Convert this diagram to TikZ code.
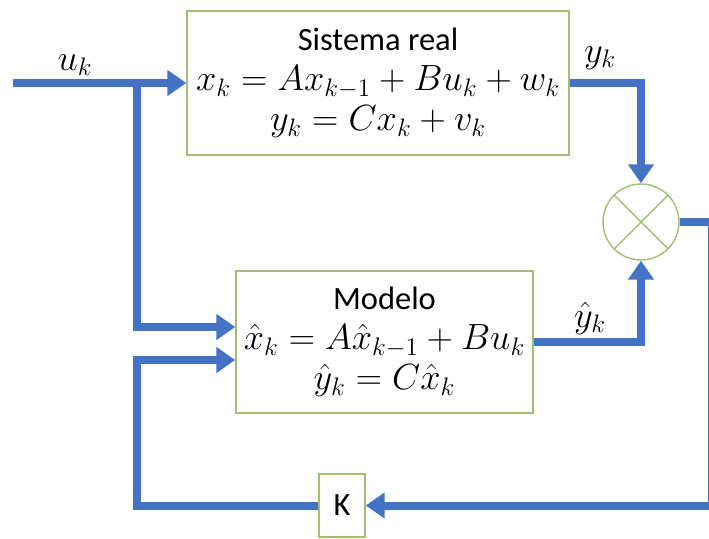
\documentclass[tikz,border=0pt]{standalone}
\usepackage{fontspec}
\setmainfont{Carlito}
\usetikzlibrary{arrows.meta}
\definecolor{sigblue}{HTML}{4472C4}
\definecolor{boxgreen}{HTML}{A3BE73}
\newcommand{\eqline}[1]{{\fontsize{20.5}{22.7}\selectfont$#1$}}
\tikzset{
  blockbox/.style={draw=boxgreen, line width=0.8pt, fill=white, align=center,
    font=\fontsize{18.5}{22.7}\selectfont},
  sig/.style={draw=sigblue, line width=0.16cm, -{Triangle[length=0.38cm,width=0.5cm]}},
  wire/.style={draw=sigblue, line width=0.16cm},
  lbl/.style={font=\fontsize{20.5}{22}\selectfont}
}
\begin{document}
\begin{tikzpicture}
      \useasboundingbox (0,0) rectangle (14.18,10.76);
      % blocks
      \node[blockbox, minimum width=7.64cm, minimum height=2.88cm] (sys) at (7.56,9.10)
        {Sistema real\\ \eqline{x_k = Ax_{k-1} + Bu_k + w_k}\\ \eqline{y_k = Cx_k + v_k}};
      \node[blockbox, minimum width=5.94cm, minimum height=2.84cm] (mod) at (7.69,3.92)
        {Modelo\\ \eqline{\hat{x}_k = A\hat{x}_{k-1} + Bu_k}\\ \eqline{\hat{y}_k = C\hat{x}_k}};
      \node[draw=boxgreen, line width=0.8pt, circle, minimum size=1.52cm, inner sep=0pt] (sum) at (12.82,6.32) {};
      \draw[boxgreen, line width=0.8pt] (sum.45) -- (sum.225) (sum.135) -- (sum.315);
      \node[blockbox, minimum width=0.92cm, minimum height=1.26cm, inner sep=0pt] (gain) at (6.84,0.65) {K};
      % free ends
      \coordinate (uin) at (0.26,9.10);
      \coordinate (br) at (2.74,9.10);
      \coordinate (rc) at (14.24,0.65);
      \coordinate (fb) at (2.74,0.65);
      % signals
      \draw[wire] (uin) -- (br);
      \draw[sig] (br) -- (sys.west);
      \draw[sig] (br) |- ([yshift=3mm]mod.west);
      \draw[sig] (sys.east) -| (sum.north);
      \draw[sig] (mod.east) -| (sum.south);
      \draw[sig] (sum.east) -| (rc) -- (gain.east);
      \draw[sig] (gain.west) -- (fb) |- ([yshift=-3.6mm]mod.west);
      % labels
      \node[lbl] (ulbl) at (1.5,9.46) {$u_k$};
      \node[lbl] (ylbl) at (12.0,9.6) {$y_k$};
      \node[lbl] (yhlbl) at (11.8,4.4) {$\hat{y}_k$};
\end{tikzpicture}
\end{document}
